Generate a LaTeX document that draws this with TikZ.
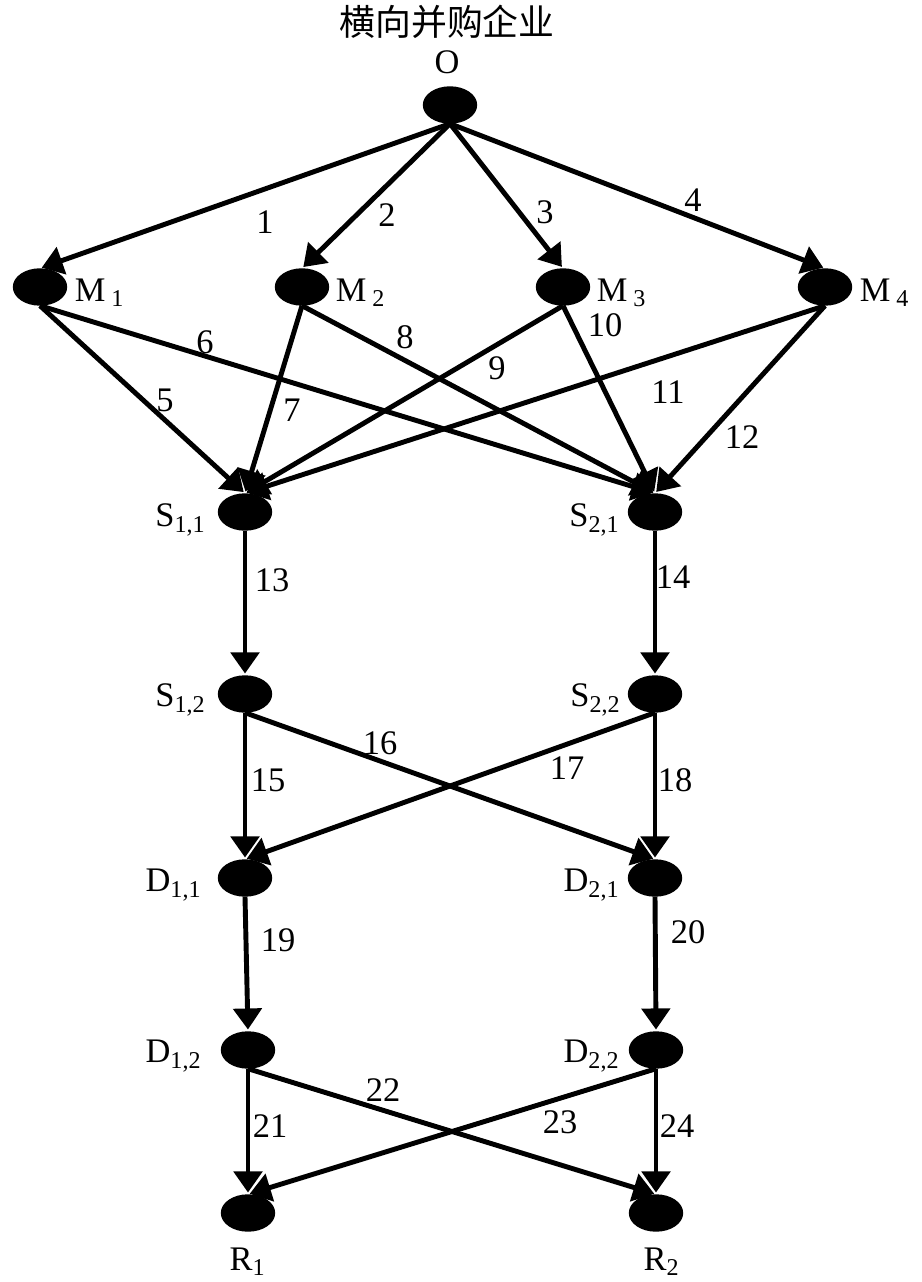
\documentclass[tikz,border=0pt]{standalone}
\usepackage{fontspec}
\setmainfont{Liberation Serif}
\newfontfamily\cjk{Noto Sans CJK SC}
\usetikzlibrary{arrows.meta,shapes.geometric}
\tikzset{
	dot/.style={ellipse, fill=black, draw=black, minimum width=0.53cm, minimum height=0.36cm, inner sep=0pt},
	arr/.style={line width=1.4pt, shorten >=0.5pt, -{Triangle[length=6pt,width=8pt]}},
	lbl/.style={inner sep=1pt, font=\fontsize{9.8}{11}\selectfont}
}

\begin{document}
\begin{tikzpicture}
			%%%%% START %%%%%
			\useasboundingbox (0, 0) rectangle (9.21, -12.82);
			
			\node[lbl, font=\cjk\fontsize{10.2}{12}\selectfont] (title) at (4.47, -0.22) {横向并购企业};
			\node[lbl] (lO) at (4.47, -0.62) {O};
			\node[dot] (O) at (4.50, -1.05) {};
			
			\node[dot] (M1) at (0.40, -2.87) {};
			\node[dot] (M2) at (3.02, -2.87) {};
			\node[dot] (M3) at (5.63, -2.87) {};
			\node[dot] (M4) at (8.25, -2.87) {};
			\node[lbl] (lM1) at (1.00, -2.93) {M\,\textsubscript{1}};
			\node[lbl] (lM2) at (3.61, -2.93) {M\,\textsubscript{2}};
			\node[lbl] (lM3) at (6.22, -2.93) {M\,\textsubscript{3}};
			\node[lbl] (lM4) at (8.85, -2.93) {M\,\textsubscript{4}};
			
			\node[dot] (S11) at (2.45, -5.12) {};
			\node[dot] (S21) at (6.55, -5.12) {};
			\node[dot] (S12) at (2.45, -6.94) {};
			\node[dot] (S22) at (6.55, -6.94) {};
			\node[lbl] (lS11) at (1.81, -5.20) {S\textsubscript{1,1}};
			\node[lbl] (lS21) at (5.95, -5.20) {S\textsubscript{2,1}};
			\node[lbl] (lS12) at (1.81, -7.00) {S\textsubscript{1,2}};
			\node[lbl] (lS22) at (5.96, -7.00) {S\textsubscript{2,2}};
			
			\node[dot] (D11) at (2.45, -8.78) {};
			\node[dot] (D21) at (6.55, -8.78) {};
			\node[dot] (D12) at (2.48, -10.50) {};
			\node[dot] (D22) at (6.56, -10.50) {};
			\node[lbl] (lD11) at (1.74, -8.85) {D\textsubscript{1,1}};
			\node[lbl] (lD21) at (5.92, -8.85) {D\textsubscript{2,1}};
			\node[lbl] (lD12) at (1.74, -10.56) {D\textsubscript{1,2}};
			\node[lbl] (lD22) at (5.92, -10.56) {D\textsubscript{2,2}};
			
			\node[dot] (R1) at (2.48, -12.13) {};
			\node[dot] (R2) at (6.56, -12.13) {};
			\node[lbl] (lR1) at (2.48, -12.62) {R\textsubscript{1}};
			\node[lbl] (lR2) at (6.62, -12.62) {R\textsubscript{2}};
			
			% first tier
			\draw[arr] (O.south) -- (M1.north);
			\draw[arr] (O.south) -- (M2.north);
			\draw[arr] (O.south) -- (M3.north);
			\draw[arr] (O.south) -- (M4.north);
			\node[lbl] (e1) at (2.65, -2.22) {1};
			\node[lbl] (e2) at (3.87, -2.15) {2};
			\node[lbl] (e3) at (5.45, -2.12) {3};
			\node[lbl] (e4) at (6.93, -2.00) {4};
			
			% second tier
			\draw[arr] (M1.south) -- (S11.north);
			\draw[arr] (M1.south) -- (S21.north);
			\draw[arr] (M2.south) -- (S11.north);
			\draw[arr] (M2.south) -- (S21.north);
			\draw[arr] (M3.south) -- (S11.north);
			\draw[arr] (M3.south) -- (S21.north);
			\draw[arr] (M4.south) -- (S11.north);
			\draw[arr] (M4.south) -- (S21.north);
			\node[lbl] (e5) at (1.65, -4.00) {5};
			\node[lbl] (e6) at (2.05, -3.42) {6};
			\node[lbl] (e7) at (2.92, -4.10) {7};
			\node[lbl] (e8) at (4.05, -3.37) {8};
			\node[lbl] (e9) at (4.97, -3.68) {9};
			\node[lbl] (e10) at (6.05, -3.25) {10};
			\node[lbl] (e11) at (6.68, -3.92) {11};
			\node[lbl] (e12) at (7.42, -4.37) {12};
			
			% third tier
			\draw[arr] (S11.south) -- (S12.north);
			\draw[arr] (S21.south) -- (S22.north);
			\node[lbl] (e13) at (2.72, -5.80) {13};
			\node[lbl] (e14) at (6.73, -5.77) {14};
			
			\draw[arr] (S12.south) -- (D11.north);
			\draw[arr] (S12.south) -- (D21.north);
			\draw[arr] (S22.south) -- (D11.north);
			\draw[arr] (S22.south) -- (D21.north);
			\node[lbl] (e15) at (2.68, -7.80) {15};
			\node[lbl] (e16) at (3.80, -7.43) {16};
			\node[lbl] (e17) at (5.67, -7.68) {17};
			\node[lbl] (e18) at (6.75, -7.80) {18};
			
			\draw[arr] (D11.south) -- (D12.north);
			\draw[arr] (D21.south) -- (D22.north);
			\node[lbl] (e19) at (2.78, -9.40) {19};
			\node[lbl] (e20) at (6.88, -9.32) {20};
			
			\draw[arr] (D12.south) -- (R1.north);
			\draw[arr] (D12.south) -- (R2.north);
			\draw[arr] (D22.south) -- (R1.north);
			\draw[arr] (D22.south) -- (R2.north);
			\node[lbl] (e21) at (2.70, -11.26) {21};
			\node[lbl] (e22) at (3.83, -10.90) {22};
			\node[lbl] (e23) at (5.60, -11.22) {23};
			\node[lbl] (e24) at (6.77, -11.26) {24};
			
			%%%%% END %%%%%
\end{tikzpicture}
\end{document}
